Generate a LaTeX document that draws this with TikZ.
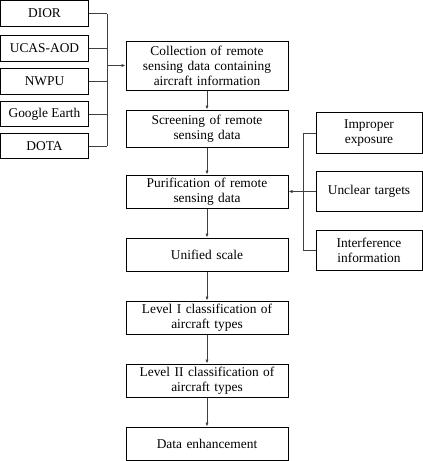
\documentclass[tikz,border=0pt]{standalone}
\usepackage{fontspec}
\setmainfont{Liberation Serif}
\usetikzlibrary{arrows.meta}
\begin{document}
\begin{tikzpicture}[x=1pt,y=-1pt,
  box/.style={draw=black,line width=1pt,rectangle,inner sep=0pt,align=center,font=\fontsize{13.4}{15}\selectfont},
  src/.style={box,minimum width=88pt,minimum height=25.5pt},
  mainbox/.style={box,minimum width=162pt,text width=160pt},
  side/.style={box,minimum width=106pt,minimum height=40.5pt,text width=104pt},
  conn/.style={draw=black!75,line width=0.7pt},
  arr/.style={conn,-{Latex[length=4pt,width=3.2pt]}}]
\useasboundingbox (0,0) rectangle (423,461);
% sources
\node[src] (dior) at (44.5,13.5) {DIOR};
\node[src] (ucas) at (44.5,48.5) {UCAS-AOD};
\node[src] (nwpu) at (44.5,81.5) {NWPU};
\node[src] (ge) at (44.5,114) {Google Earth};
\node[src] (dota) at (44.5,146) {DOTA};
% main chain
\node[mainbox,minimum height=49pt] (b1) at (207,65.5) {Collection of remote\\sensing data containing\\aircraft information};
\node[mainbox,minimum height=37pt] (b2) at (207,128.5) {Screening of remote\\sensing data};
\node[mainbox,minimum height=33pt] (b3) at (207,191.5) {Purification of remote\\sensing data};
\node[mainbox,minimum height=33pt] (b4) at (207,254.5) {Unified scale};
\node[mainbox,minimum height=33pt] (b5) at (207,317.5) {Level I classification of\\aircraft types};
\node[mainbox,minimum height=33pt] (b6) at (207,380.5) {Level II classification of\\aircraft types};
\node[mainbox,minimum height=33pt] (b7) at (207,443.5) {Data enhancement};
% side
\node[side] (ie) at (369,133) {Improper\\exposure};
\node[side] (ut) at (369,191.5) {Unclear targets};
\node[side] (ii) at (369,250.5) {Interference\\information};
% left junction
\coordinate (jl) at (107,65.5);
\foreach \n in {dior,ucas,nwpu,ge,dota} \draw[conn] (\n.east) -- (\n.east -| jl);
\draw[conn] (dior.east -| jl) -- (dota.east -| jl);
\draw[arr] (jl) -- (b1.west);
% chain arrows
\draw[arr] (b1) -- (b2);
\draw[arr] (b2) -- (b3);
\draw[arr] (b3) -- (b4);
\draw[arr] (b4) -- (b5);
\draw[arr] (b5) -- (b6);
\draw[arr] (b6) -- (b7);
% right junction
\coordinate (jr) at (303,191.5);
\draw[conn] (ie.west) -- (ie.west -| jr) -- (ii.west -| jr) -- (ii.west);
\draw[arr] (ut.west) -- (b3.east);
\end{tikzpicture}
\end{document}
